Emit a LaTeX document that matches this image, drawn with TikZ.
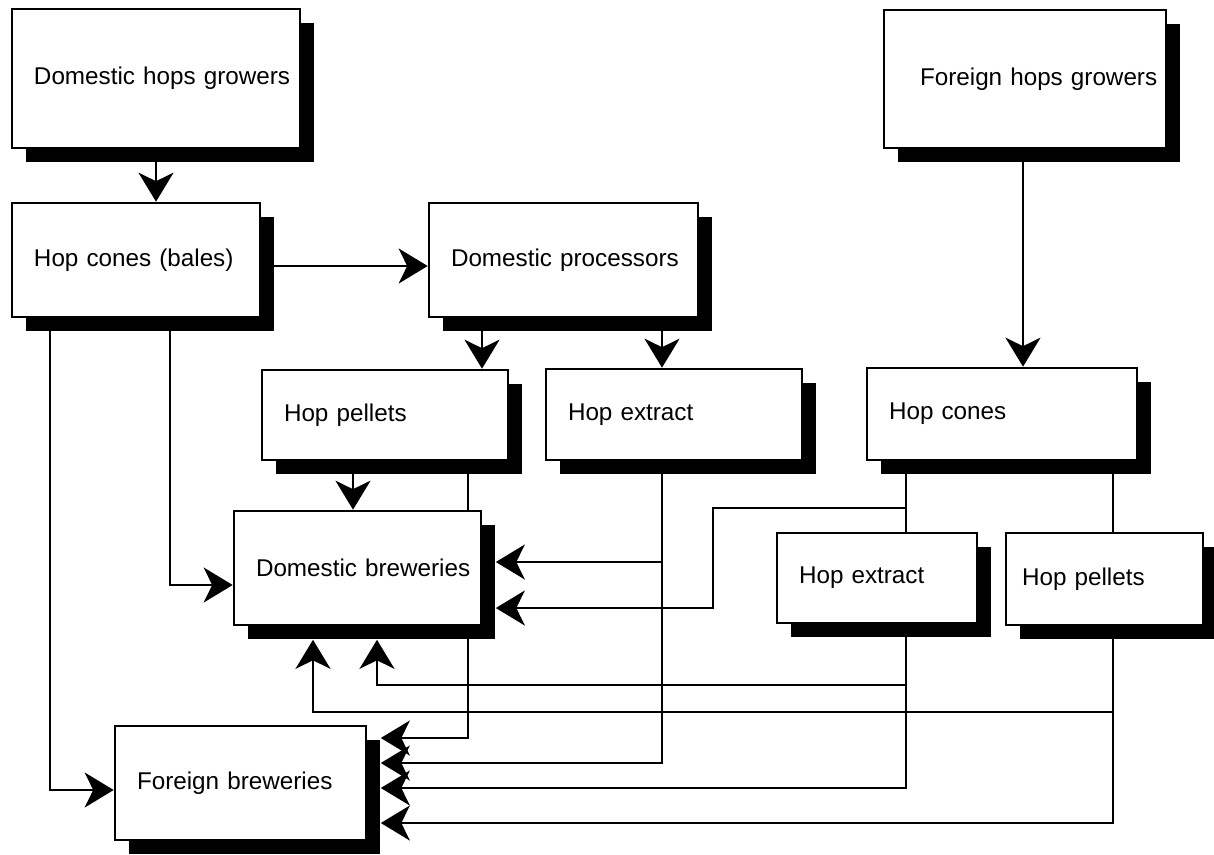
\documentclass[tikz,border=0pt]{standalone}
\usepackage{fontspec}
\setmainfont{Liberation Sans}
\usetikzlibrary{arrows.meta, shadows, backgrounds}

\tikzset{
  box/.style={draw, fill=white, line width=1.5pt, align=left, inner xsep=0pt,
    font=\fontsize{13.8pt}{16pt}\selectfont,
    execute at begin node=\hspace*{0.44cm},
    drop shadow={shadow xshift=0.27cm, shadow yshift=-0.27cm, fill=black, opacity=1}},
  flow/.style={line width=1.2pt, -{Stealth[length=0.58cm, width=0.7cm, inset=0.17cm]}},
  link/.style={line width=1.2pt}
}

\begin{document}
\begin{tikzpicture}

\useasboundingbox (0,0) rectangle (24.28,-17.08);

% growers
\node[box, text width=5.76cm, minimum height=2.78cm] (dgrow) at (3.12,-1.57) {Domestic hops growers\\[0.4cm]};
\node[box, text width=5.64cm, minimum height=2.76cm] (fgrow) at (20.5,-1.58) {\hspace*{0.28cm}Foreign hops growers\\[0.4cm]};

% cones and processors
\node[box, text width=4.96cm, minimum height=2.28cm] (bales) at (2.72,-5.2) {Hop cones (bales)};
\node[box, text width=5.38cm, minimum height=2.28cm] (dproc) at (11.27,-5.2) {Domestic processors};
\node[box, text width=5.4cm, minimum height=1.84cm] (fcones) at (20.04,-8.28) {Hop cones};

% products
\node[box, text width=4.92cm, minimum height=1.8cm] (dpell) at (7.7,-8.3) {Hop pellets};
\node[box, text width=5.12cm, minimum height=1.82cm] (dextr) at (13.48,-8.29) {Hop extract};
\node[box, text width=4.0cm, minimum height=1.8cm] (fextr) at (17.54,-11.56) {Hop extract};
\node[box, text width=3.94cm, minimum height=1.84cm] (fpell) at (22.09,-11.58) {\hspace*{-0.12cm}Hop pellets};

% breweries
\node[box, text width=4.94cm, minimum height=2.28cm] (dbrew) at (7.15,-11.36) {Domestic breweries};
\node[box, text width=5.02cm, minimum height=2.28cm] (fbrew) at (4.81,-15.66) {Foreign breweries};

% shadow edges
\coordinate (dbrewR) at ([xshift=0.27cm]dbrew.east);
\coordinate (dbrewB) at ([yshift=-0.27cm]dbrew.south);
\coordinate (fbrewR) at ([xshift=0.27cm]fbrew.east);

\begin{scope}[on background layer]
% top rows
  \draw[flow] (dgrow.south) -- (dgrow.south |- bales.north);
  \draw[flow] (bales.east |- 0,-5.32) -- (dproc.west |- 0,-5.32);
  \draw[flow] (9.64,0 |- dproc.south) -- (9.64,0 |- dpell.north);
  \draw[flow] (13.24,0 |- dproc.south) -- (13.24,0 |- dextr.north);
  \draw[flow] (20.46,0 |- fgrow.south) -- (20.46,0 |- fcones.north);

% bales straight to breweries
  \draw[flow] (1,0 |- bales.south) |- (fbrew.west |- 0,-15.8);
  \draw[flow] (3.4,0 |- bales.south) |- (dbrew.west |- 0,-11.7);

% domestic pellets
  \draw[flow] (7.06,0 |- dpell.south) -- (7.06,0 |- dbrew.north);
  \draw[flow] (9.36,0 |- dpell.south) |- (fbrewR |- 0,-14.76);

% domestic extract
  \draw[flow] (13.24,0 |- dextr.south) |- (fbrewR |- 0,-15.26);
  \draw[flow] (13.24,-11.24) -- (dbrewR |- 0,-11.24);

% foreign cones
  \draw[link] (18.12,0 |- fcones.south) -- (18.12,0 |- fextr.north);
  \draw[link] (22.26,0 |- fcones.south) -- (22.26,0 |- fpell.north);
  \draw[flow] (18.12,-10.16) -| (14.26,-12.16) -- (dbrewR |- 0,-12.16);

% foreign extract
  \draw[flow] (18.12,0 |- fextr.south) |- (fbrewR |- 0,-15.76);
  \draw[flow] (18.12,-13.7) -| (dbrewB -| 7.54,0);

% foreign pellets
  \draw[flow] (22.26,0 |- fpell.south) |- (fbrewR |- 0,-16.46);
  \draw[flow] (22.26,-14.24) -| (dbrewB -| 6.26,0);
\end{scope}

\end{tikzpicture}
\end{document}
